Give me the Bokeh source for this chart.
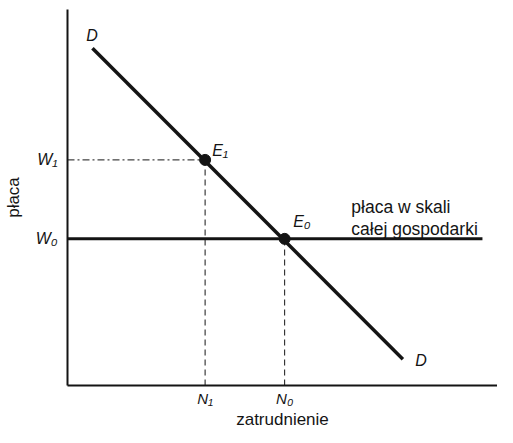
from bokeh.plotting import figure
from bokeh.models import FixedTicker, Range1d
from bokeh.core.properties import value
from bokeh.embed import file_html
from bokeh.resources import INLINE

# --- data ---
demand_x = [0.58, 7.8]
demand_y = [8.97, 0.7]
wage_line_x = [0.0, 9.65]
W0 = 3.9
W1 = 6.0
N0 = 5.05
N1 = 3.2
eq_x = [N1, N0]
eq_y = [W1, W0]
x_ticks = [N1, N0]
x_tick_labels = ["N\u2081", "N\u2080"]
y_ticks = [W1, W0]
y_tick_labels = ["W\u2081", "W\u2080"]
d_label_x = [0.57, 8.22]
d_label_y = [9.3, 0.66]
e_label_x = [3.55, 5.45]
e_label_y = [6.25, 4.35]
note_lines = ["p\u0142aca w skali", "ca\u0142ej gospodarki"]
note_x = [6.6, 6.6]
note_y = [4.74, 4.15]

FONT = "Liberation Sans"
INK = "#141414"

p = figure(width=497, height=432, output_backend="svg", toolbar_location=None,
           x_range=Range1d(0, 10), y_range=Range1d(0, 10),
           min_border_left=60, min_border_right=0, min_border_top=9, min_border_bottom=47)
p.outline_line_color = None
p.grid.visible = False
p.background_fill_color = "white"

for ax in (p.xaxis[0], p.yaxis[0]):
    ax.axis_line_width = 2
    ax.axis_line_color = INK
    ax.major_tick_in = 0
    ax.major_tick_out = 0
    ax.minor_tick_line_color = None
    ax.major_label_text_font = FONT
    ax.major_label_text_font_style = "italic"
    ax.major_label_text_font_size = "16px"
    ax.major_label_text_color = INK
    ax.axis_label_text_font = FONT
    ax.axis_label_text_font_style = "normal"
    ax.axis_label_text_font_size = "17px"
    ax.axis_label_text_color = INK

p.xaxis.ticker = FixedTicker(ticks=x_ticks)
p.xaxis.major_label_overrides = {t: l for t, l in zip(x_ticks, x_tick_labels)}
p.xaxis.major_label_text_font_size = "15px"
p.xaxis.major_label_standoff = 4
p.xaxis.axis_label = "zatrudnienie"
p.xaxis.axis_label_standoff = 0

p.yaxis.ticker = FixedTicker(ticks=y_ticks)
p.yaxis.major_label_overrides = {t: l for t, l in zip(y_ticks, y_tick_labels)}
p.yaxis.major_label_standoff = 10
p.yaxis.major_label_orientation = "horizontal"
p.yaxis.axis_label = "p\u0142aca"
p.yaxis.axis_label_standoff = 10

# guide lines
p.line([0, N1], [W1, W1], line_color=INK, line_width=1, line_dash="7 3 2 3")
p.line([N1, N1], [0, W1], line_color=INK, line_width=1, line_dash="6 4")
p.line([N0, N0], [0, W0], line_color=INK, line_width=1, line_dash="6 4")

# economy-wide wage and demand curve
p.line(wage_line_x, [W0, W0], line_color=INK, line_width=3)
p.line(demand_x, demand_y, line_color=INK, line_width=3.5)
p.scatter(eq_x, eq_y, size=11, color=INK)

# labels
p.text(x=d_label_x, y=d_label_y, text=["D", "D"], text_font_size="16px",
       text_font_style="italic", text_font=value(FONT), text_color=INK,
       text_align="center", text_baseline="middle")
p.text(x=e_label_x, y=e_label_y, text=["E\u2081", "E\u2080"], text_font_size="16px",
       text_font_style="italic", text_font=value(FONT), text_color=INK,
       text_align="center", text_baseline="middle")
p.text(x=note_x, y=note_y, text=note_lines,
       text_font_size="17.5px", text_font=value(FONT), text_color=INK,
       text_align="left", text_baseline="alphabetic")

open("out.html", "w").write(file_html(p, INLINE))
